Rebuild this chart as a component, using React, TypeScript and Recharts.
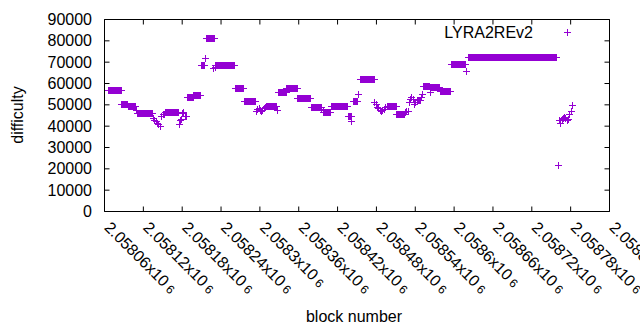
import { ScatterChart, Scatter, XAxis, YAxis, ReferenceArea } from "recharts";

const FIRST_BLOCK = 2058060;
const LAST_BLOCK = 2058840;
const MAX_DIFF = 90000;

// plot box in page pixels (gnuplot-like layout)
const PLOT_LEFT = 104.5;
const PLOT_RIGHT = 609.5;
const PLOT_TOP = 19.5;
const PLOT_BOTTOM = 211.5;

const COLOR = "#9400d3";
const FONT = "'Liberation Sans', Arial, sans-serif";
const FONT_SIZE = 16;

const xTicks = [
  2058060, 2058120, 2058180, 2058240, 2058300, 2058360, 2058420, 2058480, 2058540, 2058600, 2058660,
  2058720, 2058780, 2058840,
];
const xTickLabels = [
  "2.05806", "2.05812", "2.05818", "2.05824", "2.0583", "2.05836", "2.05842", "2.05848", "2.05854",
  "2.0586", "2.05866", "2.05872", "2.05878", "2.05884",
];
const yTicks = [0, 10000, 20000, 30000, 40000, 50000, 60000, 70000, 80000, 90000];

// stretches where difficulty stays flat: [first block, last block, difficulty]
const flatRuns: [number, number, number][] = [
  [2058065, 2058085, 57000],
  [2058086, 2058095, 50400],
  [2058096, 2058107, 49300],
  [2058110, 2058133, 46300],
  [2058154, 2058173, 46700],
  [2058188, 2058196, 53900],
  [2058197, 2058208, 54700],
  [2058209, 2058214, 68800],
  [2058216, 2058229, 81300],
  [2058231, 2058260, 68800],
  [2058261, 2058274, 58000],
  [2058275, 2058292, 51900],
  [2058309, 2058325, 49500],
  [2058328, 2058340, 56100],
  [2058341, 2058357, 57900],
  [2058358, 2058378, 53400],
  [2058379, 2058394, 49000],
  [2058398, 2058409, 46700],
  [2058410, 2058435, 49400],
  [2058436, 2058440, 44800],
  [2058444, 2058450, 52000],
  [2058454, 2058476, 62200],
  [2058496, 2058510, 49500],
  [2058511, 2058522, 45800],
  [2058543, 2058547, 52300],
  [2058552, 2058561, 58900],
  [2058563, 2058577, 58300],
  [2058578, 2058594, 56700],
  [2058595, 2058617, 69200],
  [2058621, 2058757, 72400],
];

// blocks in between, where difficulty was moving
const singleBlocks: [number, number][] = [
  [2058108, 47800], [2058109, 47500],
  [2058135, 43700], [2058137, 43000], [2058139, 42300], [2058141, 41500], [2058143, 40800],
  [2058145, 40100], [2058147, 44700], [2058150, 45600], [2058152, 45900],
  [2058175, 40800], [2058177, 42800], [2058178, 43300], [2058180, 46000], [2058182, 46500],
  [2058184, 44600], [2058186, 44800],
  [2058215, 72000],
  [2058228, 67200], [2058230, 67800],
  [2058294, 47300], [2058296, 47900], [2058298, 48500], [2058300, 47700], [2058302, 47300],
  [2058304, 47800], [2058306, 48600], [2058308, 49200], [2058327, 47500],
  [2058395, 48200], [2058397, 47800],
  [2058441, 42300], [2058451, 55200],
  [2058477, 51200], [2058479, 50200],
  [2058481, 48900], [2058483, 48300], [2058485, 47600], [2058487, 47200], [2058489, 47500],
  [2058491, 48200], [2058493, 48800], [2058494, 49000],
  [2058524, 46800], [2058526, 47200], [2058528, 47000],
  [2058530, 51200], [2058532, 52500], [2058534, 53600], [2058536, 52800], [2058538, 50500],
  [2058540, 51500], [2058542, 52200], [2058549, 53500], [2058550, 55200],
  [2058562, 55900], [2058619, 66000],
  [2058760, 21900],
  [2058762, 42700], [2058764, 41600], [2058766, 43200], [2058768, 43800], [2058770, 44300],
  [2058772, 43600], [2058774, 42900], [2058776, 43400], [2058778, 45500], [2058780, 47300],
  [2058782, 49700],
];

const points: { block: number; difficulty: number }[] = [];
flatRuns.forEach(([first, last, d]) => {
  for (let b = first; b <= last; b++) points.push({ block: b, difficulty: d });
});
singleBlocks.forEach(([b, d]) => points.push({ block: b, difficulty: d }));

const Plus = (props: any) => {
  const { cx, cy } = props;
  if (cx == null || cy == null) return <g />;
  const x = Math.round(cx) + 0.5;
  const y = Math.round(cy) + 0.5;
  return (
    <g stroke={COLOR} strokeWidth={1} shapeRendering="crispEdges">
      <line x1={x - 3.5} y1={y} x2={x + 3.5} y2={y} />
      <line x1={x} y1={y - 3.5} x2={x} y2={y + 3.5} />
    </g>
  );
};

const XTick = (props: any) => {
  const { x, payload } = props;
  const label = xTickLabels[xTicks.indexOf(payload.value)];
  const tx = x - 1;
  const ty = PLOT_BOTTOM + 17;
  return (
    <g>
      <line x1={x} y1={PLOT_BOTTOM} x2={x} y2={PLOT_BOTTOM - 5} stroke="#000" />
      <line x1={x} y1={PLOT_TOP} x2={x} y2={PLOT_TOP + 5} stroke="#000" />
      <text x={tx} y={ty} transform={`rotate(45 ${tx} ${ty})`} fontFamily={FONT} fontSize={FONT_SIZE} fill="#000">
        {label}x10
        <tspan fontSize={12}> 6</tspan>
      </text>
    </g>
  );
};

const YTick = (props: any) => {
  const { y, payload } = props;
  return (
    <g>
      <line x1={PLOT_LEFT} y1={y} x2={PLOT_LEFT + 5} y2={y} stroke="#000" />
      <line x1={PLOT_RIGHT} y1={y} x2={PLOT_RIGHT - 5} y2={y} stroke="#000" />
      <text x={92} y={y} textAnchor="end" dominantBaseline="central" fontFamily={FONT} fontSize={FONT_SIZE} fill="#000">
        {payload.value}
      </text>
    </g>
  );
};

const XTitle = () => (
  <text x={354} y={316} textAnchor="middle" dominantBaseline="central" fontFamily={FONT} fontSize={FONT_SIZE} fill="#000">
    block number
  </text>
);

const YTitle = () => (
  <text x={17} y={115} transform="rotate(-90 17 115)" textAnchor="middle" dominantBaseline="central" fontFamily={FONT} fontSize={FONT_SIZE} fill="#000">
    difficulty
  </text>
);

export default function App() {
  return (
    <div style={{ position: "absolute", left: 0, top: 0, width: 640, height: 330, background: "#fff" }}>
      <ScatterChart
        width={640}
        height={330}
        margin={{ top: PLOT_TOP, right: 640 - PLOT_RIGHT, bottom: 0, left: 0 }}
      >
        <XAxis
          type="number"
          dataKey="block"
          domain={[FIRST_BLOCK, LAST_BLOCK]}
          ticks={xTicks}
          interval={0}
          height={330 - PLOT_BOTTOM}
          axisLine={false}
          tickLine={false}
          tickSize={0}
          tick={<XTick />}
          label={<XTitle />}
        />
        <YAxis
          type="number"
          dataKey="difficulty"
          domain={[0, MAX_DIFF]}
          ticks={yTicks}
          interval={0}
          width={PLOT_LEFT}
          axisLine={false}
          tickLine={false}
          tickSize={0}
          tick={<YTick />}
          label={<YTitle />}
        />
        <ReferenceArea
          x1={FIRST_BLOCK}
          x2={LAST_BLOCK}
          y1={0}
          y2={MAX_DIFF}
          fill="none"
          fillOpacity={0}
          stroke="#000"
          strokeWidth={1}
        />
        <Scatter data={points} shape={<Plus />} isAnimationActive={false} />
      </ScatterChart>
      <div style={{ position: "absolute", left: 0, top: 0, pointerEvents: "none" }}>
        <svg width={640} height={60}>
          <text x={533} y={32} textAnchor="end" dominantBaseline="central" fontFamily={FONT} fontSize={FONT_SIZE} fill="#000">
            LYRA2REv2
          </text>
          <g stroke={COLOR} strokeWidth={1} shapeRendering="crispEdges">
            <line x1={564} y1={32.5} x2={571} y2={32.5} />
            <line x1={567.5} y1={29} x2={567.5} y2={36} />
          </g>
        </svg>
      </div>
    </div>
  );
}
